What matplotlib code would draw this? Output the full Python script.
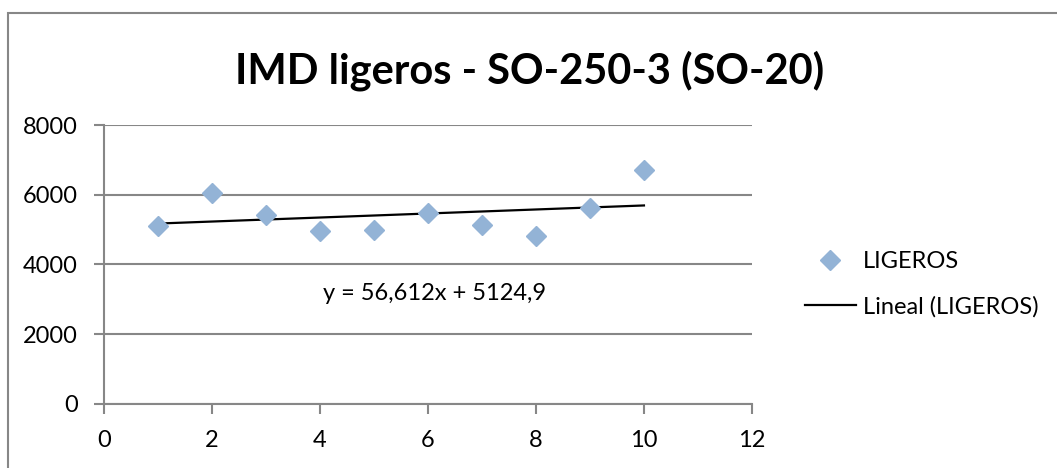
import numpy as np
import matplotlib.pyplot as plt
from matplotlib.lines import Line2D
from matplotlib.patches import Rectangle

# IMD ligeros por año
x = [1, 2, 3, 4, 5, 6, 7, 8, 9, 10]
ligeros = [5115, 6057, 5420, 4951, 4991, 5486, 5143, 4829, 5629, 6714]
titulo = 'IMD ligeros - SO-250-3 (SO-20)'
ecuacion = 'y = 56,612x + 5124,9'

plt.rcParams['font.family'] = ['Lato', 'DejaVu Sans']

fig = plt.figure(figsize=(10.57, 4.68), dpi=100)
ax = fig.add_axes([0.0984, 0.1368, 0.613, 0.5961])

gris = '#878787'
azul = '#93B3D6'

# linea de tendencia (minimos cuadrados)
m, b = np.polyfit(x, ligeros, 1)
xt = np.array([x[0], x[-1]])
ax.plot(xt, m * xt + b, color='black', lw=1.6, zorder=2)
ax.plot(x, ligeros, linestyle='none', marker='D', markersize=10.5,
        color=azul, markeredgecolor=azul, zorder=3)

ax.set_xlim(0, 12)
ax.set_ylim(0, 8000)
ax.set_xticks(range(0, 13, 2))
ax.set_yticks(range(0, 8001, 2000))
ax.yaxis.grid(True, color=gris, lw=1.5)
ax.set_axisbelow(True)
for s in ['top', 'right']:
    ax.spines[s].set_visible(False)
for s in ['left', 'bottom']:
    ax.spines[s].set_color(gris)
    ax.spines[s].set_linewidth(1.5)
ax.tick_params(axis='both', colors=gris, width=1.5, length=7,
               labelsize=17, labelcolor='black')
ax.tick_params(axis='y', pad=12)
ax.tick_params(axis='x', pad=12)

ax.text(6.13, 3180, ecuacion, fontsize=17, ha='center', va='center')

fig.text(0.501, 0.85, titulo, fontsize=30, fontweight='bold',
         ha='center', va='center')

handles = [Line2D([], [], linestyle='none', marker='D', markersize=10.5,
                  color=azul),
           Line2D([], [], color='black', lw=1.6)]
fig.legend(handles, ['LIGEROS', 'Lineal (LIGEROS)'], loc='center left',
           bbox_to_anchor=(0.7616, 0.393), frameon=False, fontsize=17,
           handlelength=2.15, handletextpad=0.3, labelspacing=1.0,
           borderpad=0, borderaxespad=0)

# borde del area del grafico (solo visible arriba e izquierda)
fig.patches.append(Rectangle((8 / 1057, -0.1), 1.2, 1.1 - 13 / 468,
                             transform=fig.transFigure, fill=False,
                             edgecolor=gris, lw=1.5))

fig.savefig('out.png', dpi=100)
